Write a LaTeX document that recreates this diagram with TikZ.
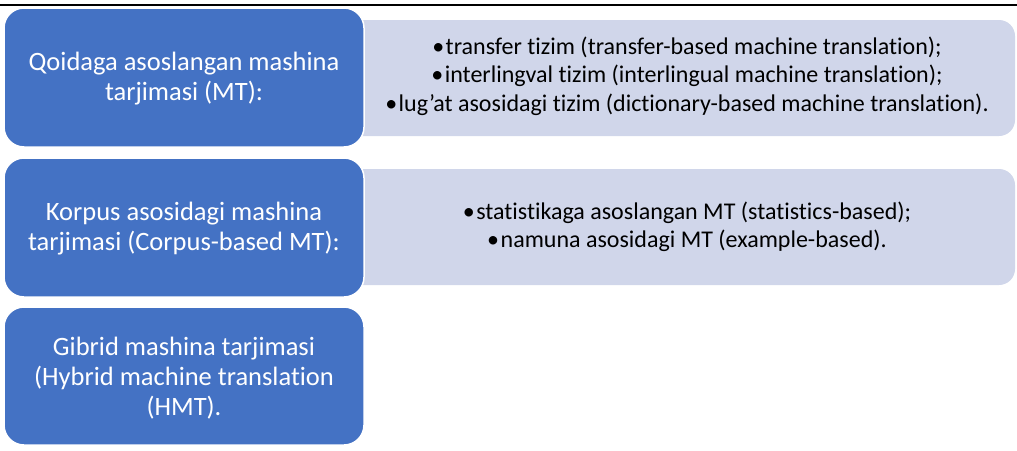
\documentclass[tikz,border=0pt]{standalone}
\usepackage{fontspec}
\setmainfont{Carlito}[Ligatures=NoCommon]
\definecolor{boxblue}{HTML}{4472C4}
\definecolor{boxlight}{HTML}{D0D6EA}
\newcommand{\blt}{•\hspace{1.5pt}}
\begin{document}
\begin{tikzpicture}[x=1pt,y=-1pt,
  bluebox/.style={fill=boxblue, draw=white, line width=1.5pt, rounded corners=20pt},
  lightbox/.style={fill=boxlight, draw=none, rounded corners=16pt},
  bluetext/.style={text=white, align=center, font=\fontsize{26.5}{30}\selectfont, inner sep=0pt},
  lighttext/.style={text=black, align=center, font=\fontsize{24}{28.5}\selectfont, inner sep=0pt}]
\useasboundingbox (0,0) rectangle (1017,450);
\draw[line width=2.5pt] (0,5) coordinate (la) -- (1017,5) coordinate (lb);
% light boxes
\fill[lightbox] (345,20) rectangle (1015,136);
\fill[lightbox] (345,169) rectangle (1015,285);
% blue boxes
\draw[bluebox] (4,8) rectangle (364,147);
\draw[bluebox] (4,158) rectangle (364,297);
\draw[bluebox] (4,307) rectangle (364,445);
% texts
\node[bluetext] (q) at (184,79) {Qoidaga asoslangan mashina\\tarjimasi (MT):};
\node[bluetext] (k) at (184,229) {Korpus asosidagi mashina\\tarjimasi (Corpus-based MT):};
\node[bluetext] (g) at (184,378) {Gibrid mashina tarjimasi\\(Hybrid machine translation\\(HMT).};
\node[lighttext] (r1) at (687,76) {\blt transfer tizim (transfer-based machine translation);\\\blt interlingval tizim (interlingual machine translation);\\\blt lug’at asosidagi tizim (dictionary-based machine translation).};
\node[lighttext] (r2) at (687,227) {\blt statistikaga asoslangan MT (statistics-based);\\\blt namuna asosidagi MT (example-based).};
\end{tikzpicture}
\end{document}
